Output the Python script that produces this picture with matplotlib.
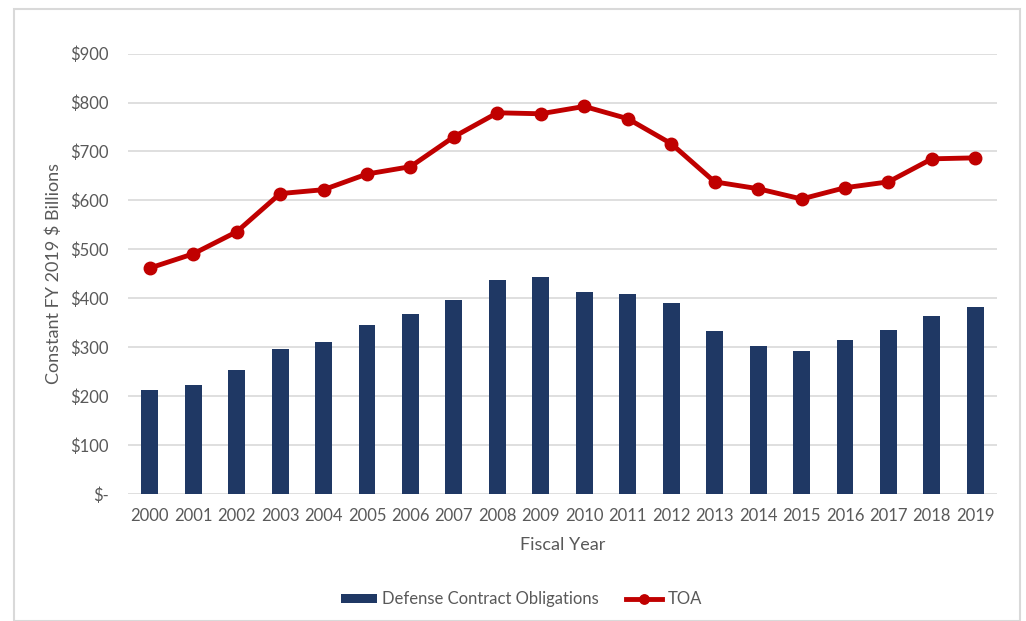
import matplotlib.pyplot as plt
from matplotlib.patches import Rectangle
from matplotlib.ticker import FuncFormatter

plt.rcParams['font.family'] = ['Lato', 'DejaVu Sans']

years = ["2000", "2001", "2002", "2003", "2004", "2005", "2006", "2007", "2008", "2009",
         "2010", "2011", "2012", "2013", "2014", "2015", "2016", "2017", "2018", "2019"]
contracts = [212, 223, 254, 297, 311, 346, 368, 397, 438, 444,
             413, 409, 391, 333, 303, 292, 315, 335, 364, 382]
toa = [462, 491, 536, 614, 622, 654, 669, 730, 779, 777,
       792, 767, 716, 638, 624, 603, 626, 638, 685, 687]

grey = "#595959"

fig = plt.figure(figsize=(10.26, 6.21), dpi=100)
ax = fig.add_axes([0.1248, 0.204, 0.847, 0.7098])

x = range(len(years))
bars = ax.bar(x, contracts, width=0.39, color="#1F3864", label="Defense Contract Obligations", zorder=2)
line, = ax.plot(x, toa, color="#C00000", lw=3.5, marker="o", markersize=9, label="TOA", zorder=3)

ax.set_xlim(-0.5, len(years) - 0.5)
ax.set_ylim(0, 900)
ax.set_yticks(range(0, 901, 100))
ax.yaxis.set_major_formatter(FuncFormatter(lambda v, p: "$-" if v == 0 else "${:.0f}".format(v)))
ax.set_xticks(list(x))
ax.set_xticklabels(years)
ax.grid(axis="y", color="#d9d9d9", lw=1.2, zorder=0)
ax.set_axisbelow(True)
for s in ax.spines.values():
    s.set_visible(False)
ax.tick_params(length=0, colors=grey, labelsize=12)
ax.tick_params(axis="y", pad=14)
ax.tick_params(axis="x", pad=10)

ax.set_xlabel("Fiscal Year", color=grey, fontsize=13, labelpad=9)
ax.set_ylabel("Constant FY 2019 $ Billions", color=grey, fontsize=13, labelpad=6)

leg = fig.legend([bars, line], ["Defense Contract Obligations", "TOA"],
                 loc="center", bbox_to_anchor=(0.508, 0.035), ncol=2, frameon=False,
                 fontsize=12, handlelength=2.2, handleheight=0.5, columnspacing=1.6,
                 handletextpad=0.3, markerscale=0.75)
for t in leg.get_texts():
    t.set_color(grey)

fig.patches.append(Rectangle((14 / 1026, 0), 1006 / 1026, 1 - 9 / 621, transform=fig.transFigure,
                             fill=False, edgecolor="#d9d9d9", lw=1.5))

fig.savefig("out.png", dpi=100)
